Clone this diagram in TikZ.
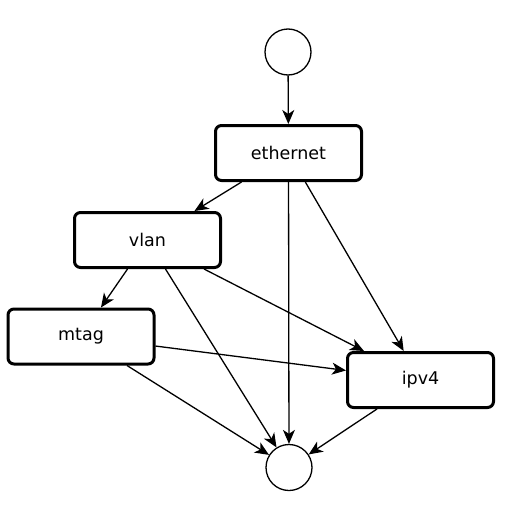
\documentclass[tikz,border=0pt]{standalone}
\usepackage{fontspec}
\setsansfont{DejaVu Sans}
\usetikzlibrary{arrows.meta}

\begin{document}
\begin{tikzpicture}[x=1pt,y=-1pt,>={Stealth[length=14pt,width=12pt,inset=4pt]},font=\sffamily\fontsize{17.5}{21}\selectfont]
\tikzstyle{proto}=[draw,line width=3pt,rounded corners=6pt,minimum width=146pt,minimum height=55pt]
\tikzstyle{term}=[draw,circle,line width=1.3pt,minimum size=46pt,inner sep=0pt]
\useasboundingbox (0,0) rectangle (509,514);
\node[term] (start) at (288,52) {};
\node[proto] (ethernet) at (288.5,153) {ethernet};
\node[proto] (vlan) at (147.5,240) {vlan};
\node[proto] (mtag) at (81,336.5) {mtag};
\node[proto] (ipv4) at (420.5,380) {ipv4};
\node[term] (stop) at (289,467.5) {};
\draw[->,line width=1.3pt] (start) -- (ethernet);
\draw[->,line width=1.3pt] (ethernet) -- (vlan);
\draw[->,line width=1.3pt] (ethernet) -- (ipv4);
\draw[->,line width=1.3pt] (ethernet) -- (stop);
\draw[->,line width=1.3pt] (vlan) -- (mtag);
\draw[->,line width=1.3pt] (vlan) -- (ipv4);
\draw[->,line width=1.3pt] (vlan) -- (stop);
\draw[->,line width=1.3pt] (mtag) -- (ipv4);
\draw[->,line width=1.3pt] (mtag) -- (stop);
\draw[->,line width=1.3pt] (ipv4) -- (stop);
\end{tikzpicture}
\end{document}
